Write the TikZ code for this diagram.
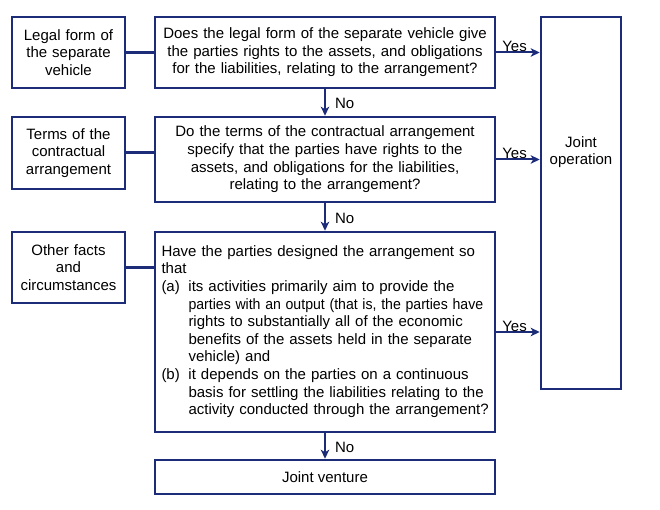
\documentclass[tikz,border=0pt]{standalone}
\usepackage{fontspec}
\usepackage{graphicx}
\setmainfont{Liberation Sans}
\usetikzlibrary{arrows.meta}
\definecolor{navy}{RGB}{28,44,120}
\begin{document}
\begin{tikzpicture}[x=1pt,y=-1pt,
  txt/.style={font=\fontsize{15}{17.6}\selectfont},
  box/.style={txt,draw=navy,line width=2.6pt,inner sep=0pt,align=center},
  link/.style={draw=navy,line width=3pt},
  arr/.style={draw=navy,line width=2pt,-{Stealth[length=9pt,width=8.5pt,inset=2.5pt]}},
  lbl/.style={txt,inner sep=0pt}]
\useasboundingbox (0,0) rectangle (660,510);
% left boxes
\node[box,minimum width=113pt,minimum height=71pt,text width=110pt] (f1) at (68.5,52.5) {Legal form of\\the separate\\vehicle};
\node[box,minimum width=113pt,minimum height=72pt,text width=110pt] (f2) at (68.5,153) {Terms of the\\contractual\\arrangement};
\node[box,minimum width=113pt,minimum height=71pt,text width=110pt] (f3) at (68.5,267.5) {Other facts\\and\\circumstances};
% questions
\node[box,minimum width=340pt,minimum height=71pt,text width=334pt] (q1) at (325,52.5) {Does the legal form of the separate vehicle give\\the parties rights to the assets, and obligations\\for the liabilities, relating to the arrangement?};
\node[box,minimum width=340pt,minimum height=85pt,text width=334pt] (q2) at (325,159.5) {Do the terms of the contractual arrangement\\specify that the parties have rights to the\\assets, and obligations for the liabilities,\\relating to the arrangement?};
\node[box,minimum width=340pt,minimum height=200pt,text width=327pt,align=left] (q3) at (325,332) {%
\begin{tabular}{@{}p{27pt}@{}l@{}}
\multicolumn{2}{@{}l@{}}{Have the parties designed the arrangement so}\\
\multicolumn{2}{@{}l@{}}{that}\\
(a) & its activities primarily aim to provide the\\
 & \scalebox{0.94}[1]{parties with an output (that is, the parties have}\\
 & rights to substantially all of the economic\\
 & benefits of the assets held in the separate\\
 & vehicle) and\\
(b) & it depends on the parties on a continuous\\
 & basis for settling the liabilities relating to the\\
 & activity conducted through the arrangement?
\end{tabular}};
\node[box,minimum width=340pt,minimum height=34pt] (jv) at (325,477) {Joint venture};
% joint operation
\node[box,minimum width=80pt,minimum height=372pt] (jo) at (581,203) {};
\node[txt,align=center,inner sep=0pt] (jot) at (581,152) {Joint\\operation};
% links
\draw[link] (f1.east) -- (q1.west);
\draw[link] (f2.east) -- (f2.east -| q2.west);
\draw[link] (f3.east) -- (f3.east -| q3.west);
% yes arrows
\draw[arr] (q1.east) -- node[lbl,anchor=base,pos=0.42,yshift=0.5pt]{Yes} (q1.east -| jo.west);
\draw[arr] (q2.east) -- node[lbl,anchor=base,pos=0.42,yshift=0.5pt]{Yes} (q2.east -| jo.west);
\draw[arr] (q3.east) -- node[lbl,anchor=base,pos=0.42,yshift=0.5pt]{Yes} (q3.east -| jo.west);
% no arrows
\draw[arr] (q1.south) -- node[lbl,right,pos=0.55,xshift=9pt]{No} (q2.north);
\draw[arr] (q2.south) -- node[lbl,right,pos=0.55,xshift=9pt]{No} (q3.north);
\draw[arr] (q3.south) -- node[lbl,right,pos=0.55,xshift=9pt]{No} (jv.north);
\end{tikzpicture}
\end{document}
